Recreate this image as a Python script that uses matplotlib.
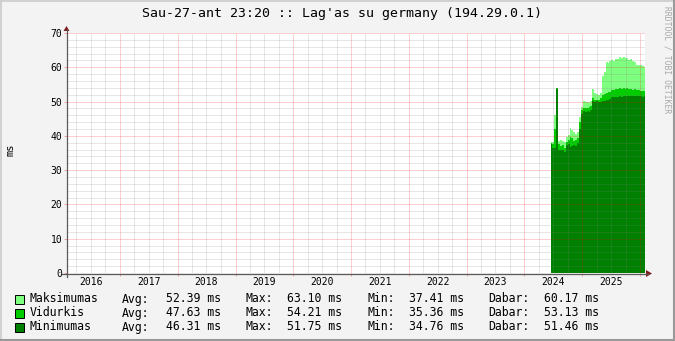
import matplotlib
matplotlib.use('Agg')
import matplotlib.pyplot as plt
import matplotlib.dates as mdates
import matplotlib.ticker as mticker
from matplotlib.lines import Line2D
from matplotlib.patches import Polygon, Rectangle
import numpy as np
import pandas as pd

# ---------------- data ----------------
title = "Sau-27-ant 23:20 :: Lag'as su germany (194.29.0.1)"
dates = pd.date_range('2024-06-14', periods=50, freq='12D')
end_date = pd.Timestamp('2026-02-01')
x_start = pd.Timestamp('2016-02-01')

max_ms = [38.2, 38.3, 46.0, 54.1, 38.6, 38.8, 38.5, 38.2, 39.8, 40.2,
          42.3, 41.8, 41.0, 40.6, 41.2, 45.5, 48.5, 50.3, 49.8, 50.0,
          49.6, 50.2, 53.8, 52.5, 52.2, 52.0, 52.6, 57.5, 58.5, 61.5,
          61.2, 61.8, 62.2, 61.9, 62.5, 62.3, 63.0, 62.7, 63.1, 62.8,
          62.6, 62.2, 62.4, 61.8, 61.6, 60.8, 60.6, 60.7, 60.5, 60.2]
avg_ms = [38.0, 37.5, 42.0, 53.9, 37.5, 37.0, 37.2, 36.5, 38.2, 38.8,
          39.8, 39.5, 38.6, 38.8, 39.5, 44.0, 47.5, 48.0, 48.2, 48.0,
          48.3, 48.6, 51.0, 50.5, 50.6, 50.4, 51.0, 52.0, 52.2, 52.6,
          52.8, 52.9, 53.4, 53.5, 53.8, 53.6, 54.0, 53.7, 54.1, 53.8,
          53.9, 53.6, 53.7, 53.5, 53.6, 53.4, 53.3, 53.2, 53.1, 53.1]
min_ms = [37.5, 36.5, 36.5, 53.6, 36.0, 35.8, 36.0, 35.4, 37.2, 37.5,
          36.8, 37.0, 37.3, 37.0, 37.8, 42.0, 46.5, 47.2, 47.0, 47.3,
          47.1, 47.5, 50.3, 50.0, 50.1, 49.9, 50.0, 50.3, 50.2, 50.5,
          50.6, 50.7, 51.3, 51.2, 51.4, 51.3, 51.5, 51.4, 51.6, 51.5,
          51.5, 51.6, 51.5, 51.6, 51.5, 51.6, 51.5, 51.5, 51.4, 51.5]

series_names = ['Maksimumas', 'Vidurkis', 'Minimumas']
series_colors = ['#7FFF7F', '#00CC00', '#008000']
stat_avg = ['52.39', '47.63', '46.31']
stat_max = ['63.10', '54.21', '51.75']
stat_min = ['37.41', '35.36', '34.76']
stat_cur = ['60.17', '53.13', '51.46']

# ---------------- figure ----------------
W, H = 675, 341
fig = plt.figure(figsize=(W / 100, H / 100), dpi=100, facecolor='#F3F3F3')
MONO = 'DejaVu Sans Mono'


def px(x, y):
    return (x / W, 1 - y / H)


ax = fig.add_axes([67 / W, (H - 273) / H, 578 / W, 240 / H])
ax.set_facecolor('white')

xs = list(dates) + [end_date]
for vals, col in zip([max_ms, avg_ms, min_ms], series_colors):
    ys = list(vals) + [vals[-1]]
    ax.fill_between(xs, 0, ys, step='post', color=col, linewidth=0, zorder=1)

ax.set_xlim(x_start, end_date)
ax.set_ylim(0, 70)

ax.xaxis.set_major_locator(mdates.YearLocator(1))
ax.xaxis.set_minor_locator(mdates.MonthLocator(bymonth=[4, 7, 10]))
ax.xaxis.set_major_formatter(mticker.NullFormatter())


def minor_fmt(v, pos):
    d = mdates.num2date(v)
    return str(d.year) if d.month == 7 else ''


ax.xaxis.set_minor_formatter(mticker.FuncFormatter(minor_fmt))
ax.yaxis.set_major_locator(mticker.MultipleLocator(10))
ax.yaxis.set_minor_locator(mticker.MultipleLocator(2))
ax.yaxis.set_major_formatter(mticker.FormatStrFormatter('%d'))

ax.tick_params(axis='x', which='major', length=2, width=0.72, color='#F0A0A0', direction='out')
ax.tick_params(axis='x', which='minor', length=0, pad=3.2, labelsize=7,
               labelfontfamily=MONO, labelcolor='black')
ax.tick_params(axis='y', which='major', length=2, width=0.72, color='#F0A0A0',
               pad=1.5, labelsize=7, labelfontfamily=MONO)
ax.tick_params(axis='y', which='minor', length=0)

ax.set_axisbelow(False)
dots = (0, (1, 1))
ax.grid(which='major', color='#FF0000', alpha=0.38, linestyle=dots, linewidth=0.72)
ax.grid(which='minor', color='#808080', alpha=0.38, linestyle=dots, linewidth=0.72)

for s in ['top', 'right', 'left', 'bottom']:
    ax.spines[s].set_visible(False)

# axes lines with arrows (RRDtool style)
axis_col = '#5A5A5A'
arrow_col = '#7F1F1F'
fig.add_artist(Line2D([62 / W, 648 / W], [1 - 273.5 / H] * 2, color=axis_col, lw=0.9))
fig.add_artist(Line2D([66.5 / W] * 2, [1 - 277 / H, 1 - 30 / H], color=axis_col, lw=0.9))
fig.add_artist(Polygon([px(646, 270), px(646, 277), px(652, 273.5)], closed=True,
                       transform=fig.transFigure, color=arrow_col, lw=0))
fig.add_artist(Polygon([px(63.5, 31), px(69.5, 31), px(66.5, 26)], closed=True,
                       transform=fig.transFigure, color=arrow_col, lw=0))

# title & labels
fig.text(*px(342, 14), title, ha='center', va='center', fontsize=9.5, family=MONO)
fig.text(*px(10, 150), 'ms', rotation=90, ha='center', va='center', fontsize=7.5, family=MONO)
fig.text(*px(667, 60), 'RRDTOOL / TOBI OETIKER', rotation=270, ha='center', va='center',
         fontsize=5.8, family=MONO, color='#A8A8A8')

# legend
rows_y = [299, 313, 327]
for i in range(3):
    y = rows_y[i]
    fig.add_artist(Rectangle(px(15, y + 4.5), 9 / W, 9 / H, transform=fig.transFigure,
                             facecolor=series_colors[i], edgecolor='black', lw=0.7))
    fs = 8.3
    fig.text(*px(30, y), series_names[i], ha='left', va='center', fontsize=fs, family=MONO)
    fig.text(*px(122, y), 'Avg:', ha='left', va='center', fontsize=fs, family=MONO)
    fig.text(*px(166, y), stat_avg[i] + ' ms', ha='left', va='center', fontsize=fs, family=MONO)
    fig.text(*px(245, y), 'Max:', ha='left', va='center', fontsize=fs, family=MONO)
    fig.text(*px(287, y), stat_max[i] + ' ms', ha='left', va='center', fontsize=fs, family=MONO)
    fig.text(*px(367, y), 'Min:', ha='left', va='center', fontsize=fs, family=MONO)
    fig.text(*px(409, y), stat_min[i] + ' ms', ha='left', va='center', fontsize=fs, family=MONO)
    fig.text(*px(488, y), 'Dabar:', ha='left', va='center', fontsize=fs, family=MONO)
    fig.text(*px(544, y), stat_cur[i] + ' ms', ha='left', va='center', fontsize=fs, family=MONO)

# 3D border
fig.add_artist(Line2D([0, 1], [1 - 0.5 / H] * 2, color='#CBCBCB', lw=1.2))
fig.add_artist(Line2D([0.5 / W] * 2, [0, 1], color='#CBCBCB', lw=1.2))
fig.add_artist(Line2D([0, 1], [1 / H] * 2, color='#999999', lw=1.5))
fig.add_artist(Line2D([1 - 1 / W] * 2, [0, 1], color='#999999', lw=1.5))

fig.savefig('out.png', dpi=100, facecolor=fig.get_facecolor())
